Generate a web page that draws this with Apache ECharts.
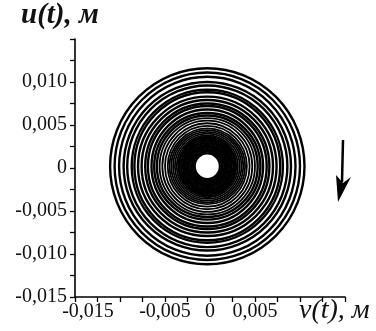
<!DOCTYPE html>
<html>
<head>
<meta charset="utf-8">
<script src="https://cdn.jsdelivr.net/npm/echarts@6/dist/echarts.min.js"></script>
<style>
  html, body { margin: 0; padding: 0; background: #fff; }
  #chart { width: 376px; height: 331px; }
</style>
</head>
<body>
<div id="chart"></div>
<script>
// Phase portrait u(t) vs v(t): each turn of the trajectory, outer to inner,
// given by its half-width along v and half-height along u (metres).
const vAmp = [0.0108, 0.0103, 0.0098, 0.0093, 0.0089, 0.0084, 0.0081, 0.0077, 0.0073,
  0.0069, 0.0066, 0.0062, 0.0059, 0.0056, 0.0053, 0.0050, 0.0047, 0.0044, 0.0042,
  0.0040, 0.0038, 0.0036, 0.0034, 0.0032, 0.0031, 0.0029, 0.0027, 0.0026, 0.0024,
  0.0022, 0.0021, 0.0019, 0.0017, 0.0016, 0.0014];
const uAmp = [0.0114, 0.0109, 0.0104, 0.0098, 0.0094, 0.0089, 0.0086, 0.0081, 0.0077,
  0.0073, 0.0070, 0.0066, 0.0062, 0.0059, 0.0056, 0.0053, 0.0050, 0.0047, 0.0044,
  0.0042, 0.0040, 0.0038, 0.0036, 0.0034, 0.0033, 0.0031, 0.0029, 0.0027, 0.0025,
  0.0023, 0.0022, 0.0020, 0.0018, 0.0017, 0.0015];
// Centre of the orbit (v, u)
const centerV = -0.0003;
const centerU = 0.0002;

// Tick labels that are printed on each axis
const vTickLabels = ['-0,015', '-0,005', '0', '0,005'];
const uTickLabels = ['-0,015', '-0,010', '-0,005', '0', '0,005', '0,010'];

function fmt(v) {
  const k = Math.round(v * 10000);
  if (k === 0) return '0';
  return (k / 10000).toFixed(3).replace('.', ',');
}

const turns = vAmp.map((a, i) => [centerV, centerU, a, uAmp[i]]);

const chart = echarts.init(document.getElementById('chart'), null, { renderer: 'canvas' });

const labelFont = { fontFamily: 'Liberation Serif', fontSize: 20, color: '#111' };
const titleFont = { fontFamily: 'Liberation Serif', fontStyle: 'italic', fill: '#111' };

// thinner strokes toward the middle of the orbit, where the turns crowd together
function strokeFor(rx) {
  if (rx > 50) return 2.4;
  if (rx > 30) return 1.8;
  return 2.3;
}

chart.setOption({
  animation: false,
  backgroundColor: '#fff',
  grid: { left: 75, right: 31, top: 39, bottom: 34 },
  xAxis: {
    type: 'value', min: -0.015, max: 0.015, interval: 0.0025,
    axisLine: { onZero: false, lineStyle: { color: '#000', width: 1.6 } },
    axisTick: { show: true, inside: false, length: 5, lineStyle: { color: '#000', width: 1.3 } },
    splitLine: { show: false },
    axisLabel: Object.assign({
      margin: 5,
      showMinLabel: true, showMaxLabel: true,
      formatter: function (v) {
        const s = fmt(v);
        if (vTickLabels.indexOf(s) < 0) return '';
        return s === '-0,015' ? '{a|' + s + '}' : s;
      },
      rich: { a: Object.assign({ padding: [0, 0, 0, 26] }, labelFont) }
    }, labelFont)
  },
  yAxis: {
    type: 'value', min: -0.015, max: 0.015, interval: 0.0025,
    axisLine: { onZero: false, lineStyle: { color: '#000', width: 1.6 } },
    axisTick: { show: true, inside: false, length: 5, lineStyle: { color: '#000', width: 1.3 } },
    splitLine: { show: false },
    axisLabel: Object.assign({
      margin: 8,
      showMinLabel: true, showMaxLabel: true,
      formatter: function (v) {
        const s = fmt(v);
        return uTickLabels.indexOf(s) < 0 ? '' : s;
      }
    }, labelFont)
  },
  series: [{
    type: 'custom',
    coordinateSystem: 'cartesian2d',
    data: turns,
    encode: { x: 0, y: 1 },
    renderItem: function (params, api) {
      const c = api.coord([api.value(0), api.value(1)]);
      const rx = api.size([api.value(2), 0])[0];
      const ry = api.size([0, api.value(3)])[1];
      return {
        type: 'circle',
        x: c[0], y: c[1],
        scaleY: ry / rx,
        shape: { cx: 0, cy: 0, r: rx },
        style: { fill: 'none', stroke: '#000', lineWidth: strokeFor(rx) }
      };
    }
  }],
  graphic: [
    {
      type: 'text', left: 21, top: 1,
      style: {
        text: '{b|u(t)}{i|, м}',
        rich: {
          b: Object.assign({ fontWeight: 'bold', fontSize: 29 }, titleFont),
          i: Object.assign({ fontWeight: 'bold', fontSize: 29 }, titleFont)
        }
      }
    },
    {
      type: 'text', left: 299, top: 297,
      style: {
        text: '{b|v(t)}{i|, м}',
        rich: {
          b: Object.assign({ fontSize: 28 }, titleFont),
          i: Object.assign({ fontSize: 28 }, titleFont)
        }
      }
    },
    // direction of motion along the orbit
    {
      type: 'line',
      shape: { x1: 343, y1: 140, x2: 342, y2: 182 },
      style: { stroke: '#000', lineWidth: 2.5 }
    },
    {
      type: 'polygon',
      shape: { points: [[336, 175], [343, 183], [351, 177], [338, 202]] },
      style: { fill: '#000' }
    }
  ]
});
</script>
</body>
</html>
